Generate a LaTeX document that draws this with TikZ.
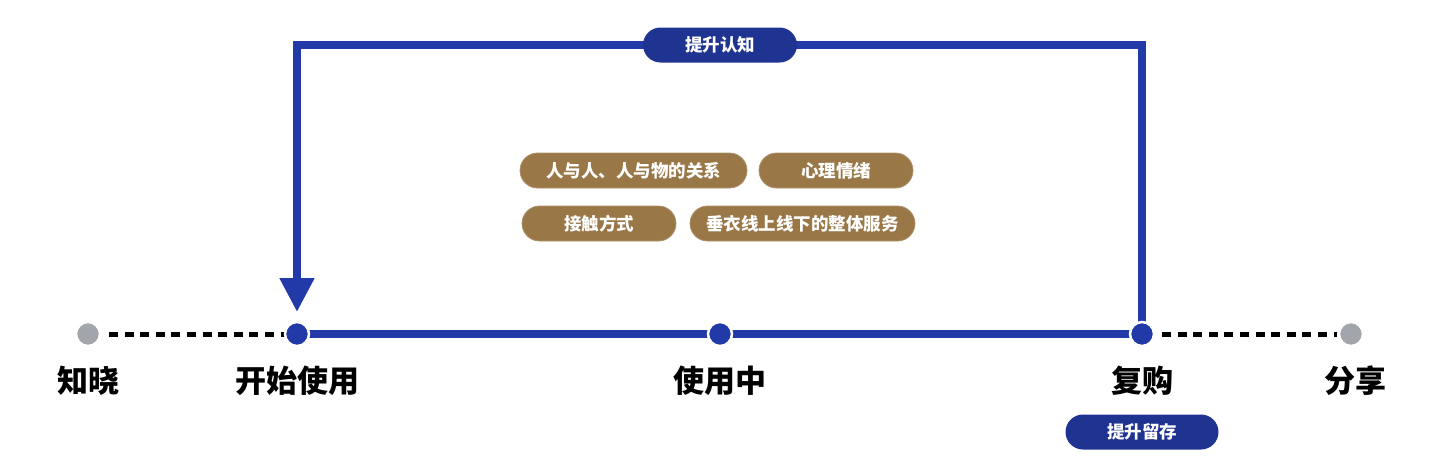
\documentclass[tikz,border=0pt]{standalone}
\usepackage{fontspec}
\setmainfont{Noto Sans CJK SC}
\usetikzlibrary{arrows.meta}
\definecolor{lineblue}{HTML}{2239A8}
\definecolor{pillblue}{HTML}{1F3391}
\definecolor{brown}{HTML}{9A7747}
\definecolor{greydot}{HTML}{A2A6AC}
\begin{document}
\begin{tikzpicture}[x=1pt,y=-1pt,
  dotnode/.style={circle,inner sep=0pt,minimum size=24pt,draw=white,line width=2.5pt},
  bluedot/.style={dotnode,fill=lineblue},
  greydotnode/.style={dotnode,fill=greydot},
  stagelabel/.style={font=\bfseries\fontsize{31}{34}\selectfont,text=black},
  bluepill/.style={rounded corners=17.5pt,fill=pillblue,text=white,minimum height=35pt,inner sep=0pt,font=\bfseries\fontsize{17.5}{19}\selectfont},
  brownpill/.style={rounded corners=17.5pt,fill=brown,draw=brown!80!white,line width=0.8pt,text=white,minimum height=35pt,inner sep=0pt,font=\bfseries\fontsize{17.5}{19}\selectfont},
  dashline/.style={black,line width=5pt,dash pattern=on 9pt off 6.6pt},
  mainline/.style={lineblue,line width=8pt}
]
\useasboundingbox (0,0) rectangle (1440,474);
% positions
\coordinate (p1) at (88,334);
\coordinate (p2) at (297,334);
\coordinate (p3) at (720,334);
\coordinate (p4) at (1142,334);
\coordinate (p5) at (1351,334);
\coordinate (top) at (720,45);
\coordinate (tip) at (297,312);
% lines
\draw[dashline] ([xshift=21pt]p1) -- ([xshift=-12pt]p2);
\draw[dashline] ([xshift=20pt]p4) -- ([xshift=-14pt]p5);
\draw[mainline] (p2) -- (p4);
\draw[mainline,line join=miter,-{Triangle[width=33pt,length=34pt]}] (p4) -- (p4 |- top) -- (p2 |- top) -- (tip);
% dots
\node[greydotnode] (d1) at (p1) {};
\node[bluedot] (d2) at (p2) {};
\node[bluedot] (d3) at (p3) {};
\node[bluedot] (d4) at (p4) {};
\node[greydotnode] (d5) at (p5) {};
% labels
\node[stagelabel] (l1) at (88,381) {知晓};
\node[stagelabel] (l2) at (297,381) {开始使用};
\node[stagelabel] (l3) at (720,381) {使用中};
\node[stagelabel] (l4) at (1142,381) {复购};
\node[stagelabel] (l5) at (1355,381) {分享};
% blue pills
\node[bluepill,minimum width=154pt] (cog) at (top) {提升认知};
\node[bluepill,minimum width=153pt] (ret) at (1142,432) {提升留存};
% brown pills
\node[brownpill,minimum width=227pt] (b1) at (633.5,170.5) {人与人、人与物的关系};
\node[brownpill,minimum width=154pt] (b2) at (836,170.5) {心理情绪};
\node[brownpill,minimum width=154pt] (b3) at (599,223.5) {接触方式};
\node[brownpill,minimum width=225pt] (b4) at (802.5,223.5) {垂衣线上线下的整体服务};
\end{tikzpicture}
\end{document}
